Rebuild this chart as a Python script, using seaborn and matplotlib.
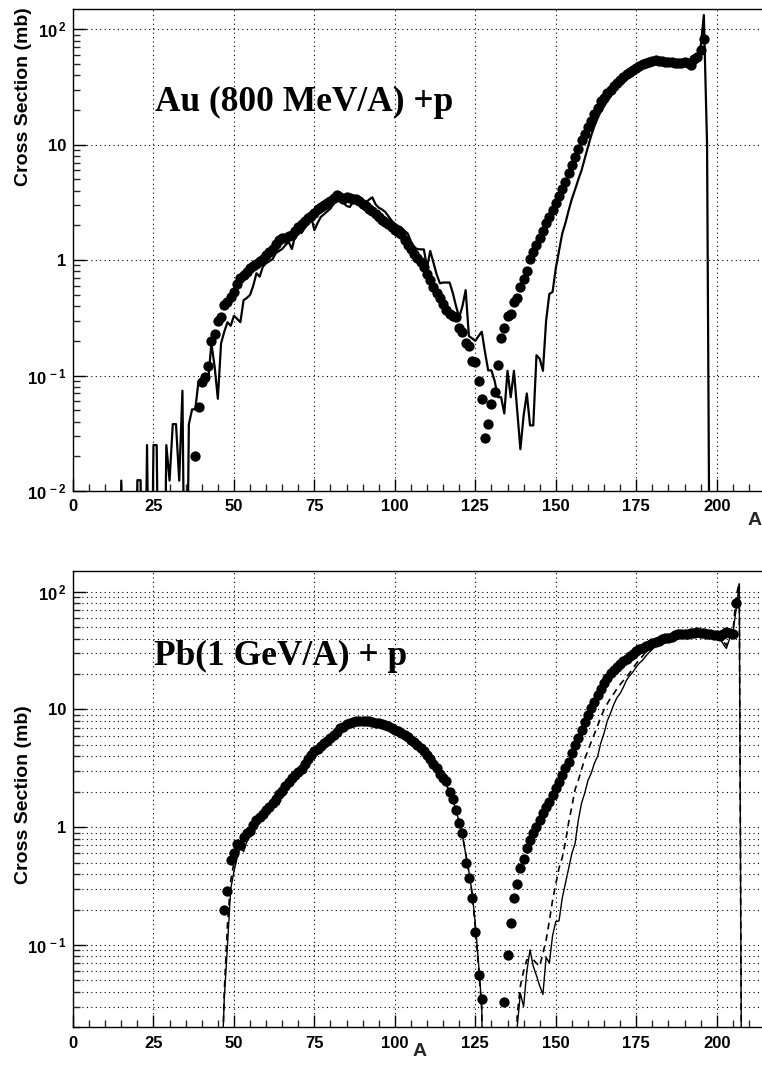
import numpy as np
import matplotlib
matplotlib.use("Agg")
import matplotlib.pyplot as plt
import seaborn as sns
from matplotlib.ticker import MultipleLocator, LogLocator, FuncFormatter, NullFormatter

ZERO = 1e-4  # empty bins, drawn below the axis

# ---- Au (800 MeV/A) + p : measured points
au_a = [38, 39, 40, 41, 42, 43, 44, 45, 46, 47, 48, 49, 50, 51, 52, 53, 54, 55, 56, 57,
        58, 59, 60, 61, 62, 63, 64, 65, 66, 67, 68, 69, 70, 71, 72, 73, 74, 75, 76, 77,
        78, 79, 80, 81, 82, 83, 84, 85, 86, 87, 88, 89, 90, 91, 92, 93, 94, 95, 96, 97,
        98, 99, 100, 101, 102, 103, 104, 105, 106, 107, 108, 109, 110, 111, 112, 113, 114, 115, 116, 117,
        118, 119, 120, 121, 122, 123, 124, 125, 126, 127, 128, 129, 130, 131, 132, 133, 134, 135, 136, 137,
        138, 139, 140, 141, 142, 143, 144, 145, 146, 147, 148, 149, 150, 151, 152, 153, 154, 155, 156, 157,
        158, 159, 160, 161, 162, 163, 164, 165, 166, 167, 168, 169, 170, 171, 172, 173, 174, 175, 176, 177,
        178, 179, 180, 181, 182, 183, 184, 185, 186, 187, 188, 189, 190, 191, 192, 193, 194, 195, 196]
au_xs = [0.020, 0.053, 0.088, 0.098, 0.12, 0.20, 0.23, 0.30, 0.32, 0.41, 0.43, 0.48, 0.53, 0.62, 0.70, 0.75, 0.79, 0.85, 0.89, 0.92,
         0.98, 1.03, 1.10, 1.17, 1.25, 1.38, 1.50, 1.55, 1.57, 1.62, 1.66, 1.80, 1.95, 2.07, 2.18, 2.30, 2.42, 2.55, 2.78, 2.88,
         3.00, 3.10, 3.25, 3.45, 3.66, 3.55, 3.42, 3.50, 3.48, 3.42, 3.36, 3.25, 3.08, 2.95, 2.80, 2.68, 2.52, 2.35, 2.25, 2.12,
         2.05, 1.95, 1.83, 1.76, 1.68, 1.50, 1.36, 1.24, 1.12, 1.05, 0.97, 0.87, 0.76, 0.67, 0.58, 0.52, 0.47, 0.42, 0.37, 0.34,
         0.33, 0.32, 0.26, 0.24, 0.19, 0.18, 0.135, 0.13, 0.09, 0.063, 0.029, 0.038, 0.057, 0.072, 0.124, 0.21, 0.26, 0.33, 0.34, 0.43,
         0.47, 0.58, 0.68, 0.80, 1.03, 1.18, 1.35, 1.55, 1.80, 2.10, 2.35, 2.70, 3.10, 3.60, 4.10, 4.80, 5.70, 6.70, 7.80, 9.20,
         11.0, 12.5, 14.3, 16.2, 18.5, 21.0, 24.0, 25.5, 28.0, 30.0, 32.0, 34.0, 36.5, 38.8, 41.0, 43.0, 44.5, 46.0, 48.0, 50.0,
         51.5, 52.5, 53.0, 54.0, 53.5, 53.0, 52.5, 52.0, 52.0, 51.5, 51.0, 51.5, 52.0, 51.5, 49.0, 55.0, 58.0, 66.0, 82.0]

# ---- Au : model (solid)
au_model_a = [14, 15, 16, 19, 20, 21, 22, 23, 24, 25, 26, 27, 28, 29, 30, 31, 32, 33, 34, 35,
              36, 37, 38, 39, 40, 41, 42, 43, 44, 45, 46, 47, 48, 49, 50, 51, 52, 53, 54, 55,
              56, 57, 58, 59, 60, 61, 62, 63, 64, 65, 66, 67, 68, 69, 70, 71, 72, 73, 74, 75,
              76, 77, 78, 79, 80, 81, 82, 83, 84, 85, 86, 87, 88, 89, 90, 91, 92, 93, 94, 95,
              96, 97, 98, 99, 100, 101, 102, 103, 104, 105, 106, 107, 108, 109, 110, 111, 112, 113, 114, 115,
              116, 117, 118, 119, 120, 121, 122, 123, 124, 125, 126, 127, 128, 129, 130, 131, 132, 133, 134, 135,
              136, 137, 138, 139, 140, 141, 142, 143, 144, 145, 146, 147, 148, 149, 150, 151, 152, 153, 154, 155,
              156, 157, 158, 159, 160, 161, 162, 163, 164, 165, 166, 167, 168, 169, 170, 171, 172, 173, 174, 175,
              176, 177, 178, 179, 180, 181, 182, 183, 184, 185, 186, 187, 188, 189, 190, 191, 192, 193, 194, 195,
              196, 197, 198]
au_model = [ZERO, 0.0123, ZERO, ZERO, 0.0124, 0.0124, ZERO, 0.025, ZERO, 0.025, 0.025, ZERO, ZERO, 0.025, 0.0123, 0.038, 0.038, 0.0123, 0.074, ZERO,
            0.038, 0.051, 0.051, 0.09, 0.095, 0.092, 0.09, 0.19, 0.12, 0.063, 0.19, 0.24, 0.29, 0.27, 0.33, 0.31, 0.29, 0.45, 0.47, 0.50,
            0.60, 0.77, 0.72, 0.88, 0.94, 0.98, 1.02, 1.15, 1.20, 1.25, 1.35, 1.44, 1.25, 1.62, 1.76, 1.72, 1.90, 2.10, 2.37, 1.82,
            2.10, 2.37, 2.50, 2.65, 2.80, 3.10, 3.25, 3.53, 3.15, 2.95, 2.89, 3.20, 3.25, 3.05, 3.00, 3.15, 3.35, 3.50, 3.05, 2.85,
            2.75, 2.62, 2.40, 2.20, 2.07, 1.98, 1.92, 1.80, 1.70, 1.45, 1.28, 1.25, 1.24, 1.24, 0.87, 1.20, 0.95, 0.75, 0.63, 0.64,
            0.64, 0.64, 0.52, 0.40, 0.32, 0.40, 0.55, 0.22, 0.21, 0.20, 0.22, 0.24, 0.16, 0.111, 0.111, 0.09, 0.065, 0.065, 0.047, 0.11,
            0.065, 0.11, 0.05, 0.023, 0.045, 0.07, 0.037, 0.037, 0.15, 0.14, 0.11, 0.30, 0.51, 0.53, 0.85, 1.20, 1.70, 2.10, 2.70, 3.40,
            4.10, 5.00, 6.00, 7.60, 9.60, 12.0, 14.5, 17.0, 19.5, 21.5, 24.0, 26.0, 29.0, 32.0, 35.0, 38.0, 40.0, 42.5, 44.5, 46.0,
            48.0, 49.5, 50.5, 51.5, 52.5, 53.0, 52.5, 52.0, 51.5, 51.5, 51.0, 51.0, 50.5, 50.5, 51.0, 51.0, 50.5, 51.0, 54.0, 70.0,
            133.0, 10.0, ZERO]

# ---- Pb (1 GeV/A) + p : measured points
pb_a = [47, 48, 49, 50, 51, 52, 53, 54, 55, 56, 57, 58, 59, 60, 61, 62, 63, 64, 65, 66,
        67, 68, 69, 70, 71, 72, 73, 74, 75, 76, 77, 78, 79, 80, 81, 82, 83, 84, 85, 86,
        87, 88, 89, 90, 91, 92, 93, 94, 95, 96, 97, 98, 99, 100, 101, 102, 103, 104, 105, 106,
        107, 108, 109, 110, 111, 112, 113, 114, 115, 116, 117, 118, 119, 120, 121, 122, 123, 124, 125, 126,
        127, 134, 135, 136, 137, 138, 139, 140, 141, 142, 143, 144, 145, 146, 147, 148, 149, 150, 151, 152,
        153, 154, 155, 156, 157, 158, 159, 160, 161, 162, 163, 164, 165, 166, 167, 168, 169, 170, 171, 172,
        173, 174, 175, 176, 177, 178, 179, 180, 181, 182, 183, 184, 185, 186, 187, 188, 189, 190, 191, 192,
        193, 194, 195, 196, 197, 198, 199, 200, 201, 202, 203, 204, 205, 206]
pb_xs = [0.20, 0.29, 0.53, 0.60, 0.72, 0.70, 0.82, 0.89, 0.93, 1.05, 1.15, 1.22, 1.30, 1.40, 1.50, 1.60, 1.75, 1.90, 2.05, 2.25,
         2.42, 2.60, 2.80, 2.97, 3.15, 3.45, 3.80, 4.10, 4.40, 4.65, 4.90, 5.15, 5.35, 5.70, 6.10, 6.50, 6.90, 7.15, 7.50, 7.75,
         7.85, 7.95, 8.00, 8.05, 8.00, 7.95, 7.85, 7.75, 7.70, 7.60, 7.40, 7.20, 6.95, 6.75, 6.55, 6.30, 6.05, 5.80, 5.55, 5.25,
         4.95, 4.70, 4.40, 4.10, 3.80, 3.45, 3.20, 2.85, 2.60, 2.45, 2.00, 1.75, 1.40, 1.08, 0.90, 0.50, 0.37, 0.25, 0.13, 0.056,
         0.035, 0.033, 0.082, 0.155, 0.25, 0.33, 0.45, 0.54, 0.66, 0.78, 0.89, 1.01, 1.15, 1.31, 1.50, 1.65, 1.88, 2.14, 2.44, 2.78,
         3.17, 3.60, 4.25, 5.00, 5.70, 6.70, 7.90, 9.00, 10.2, 11.6, 13.3, 14.8, 16.7, 18.4, 20.3, 21.8, 23.1, 24.3, 25.7, 27.0,
         28.3, 29.5, 31.2, 32.4, 33.5, 34.6, 35.5, 36.5, 37.5, 38.5, 39.3, 40.2, 40.8, 41.5, 42.5, 43.5, 43.8, 44.0, 44.0, 44.2,
         45.0, 45.7, 45.0, 44.5, 44.0, 43.5, 43.0, 42.5, 42.0, 43.5, 45.7, 45.0, 44.0, 80.7]

# ---- Pb : model 1 (solid)
pb_model_a = [46, 47, 48, 49, 50, 51, 52, 53, 54, 55, 56, 57, 58, 59, 60, 61, 62, 63, 64, 65,
              66, 67, 68, 69, 70, 71, 72, 73, 74, 75, 76, 77, 78, 79, 80, 81, 82, 83, 84, 85,
              86, 87, 88, 89, 90, 91, 92, 93, 94, 95, 96, 97, 98, 99, 100, 101, 102, 103, 104, 105,
              106, 107, 108, 109, 110, 111, 112, 113, 114, 115, 116, 117, 118, 119, 120, 121, 122, 123, 124, 125,
              126, 127, 128, 137, 138, 139, 140, 141, 142, 143, 144, 145, 146, 147, 148, 149, 150, 151, 152, 153,
              154, 155, 156, 157, 158, 159, 160, 161, 162, 163, 164, 165, 166, 167, 168, 169, 170, 171, 172, 173,
              174, 175, 176, 177, 178, 179, 180, 181, 182, 183, 184, 185, 186, 187, 188, 189, 190, 191, 192, 193,
              194, 195, 196, 197, 198, 199, 200, 201, 202, 203, 204, 205, 206, 207, 208]
pb_model = [0.006, 0.035, 0.10, 0.30, 0.42, 0.55, 0.68, 0.62, 0.75, 0.90, 1.02, 1.12, 1.20, 1.30, 1.38, 1.48, 1.62, 1.95, 1.55, 2.00,
            2.20, 2.40, 2.60, 2.90, 3.20, 3.30, 3.40, 3.75, 4.10, 4.35, 4.60, 4.85, 5.10, 5.35, 5.70, 6.10, 6.45, 6.85, 7.10, 7.40,
            7.70, 7.80, 7.90, 7.95, 8.00, 7.95, 7.90, 7.80, 7.70, 7.60, 7.50, 7.30, 7.10, 6.90, 6.70, 6.50, 6.25, 6.00, 5.75, 5.50,
            5.20, 4.90, 4.60, 4.30, 4.00, 3.70, 3.40, 3.10, 2.85, 2.60, 2.30, 2.00, 1.70, 1.40, 1.10, 0.85, 0.60, 0.42, 0.28, 0.15,
            0.07, 0.03, ZERO, ZERO, 0.02, 0.039, 0.03, 0.06, 0.091, 0.066, 0.055, 0.045, 0.038, 0.079, 0.07, 0.12, 0.158, 0.16, 0.25, 0.335,
            0.45, 0.60, 0.73, 1.15, 1.60, 1.95, 2.50, 2.87, 3.50, 4.00, 5.20, 6.30, 8.00, 9.30, 11.0, 12.6, 13.7, 15.5, 17.8, 19.4,
            20.9, 23.0, 24.8, 26.3, 28.5, 30.5, 32.5, 34.5, 36.5, 38.0, 39.0, 40.0, 41.0, 42.0, 42.5, 43.0, 43.5, 43.5, 44.0, 44.0,
            44.5, 44.5, 44.0, 43.5, 43.0, 42.5, 42.0, 40.0, 36.0, 33.0, 40.0, 44.0, 70.0, 114.0, ZERO]

# ---- Pb : model 2 (dashed)
pb_model2_a = [46, 47, 48, 49, 50, 52, 54, 56, 58, 60, 62, 64, 66, 68, 70, 72, 74, 76, 78, 80,
               82, 84, 86, 88, 90, 92, 94, 96, 98, 100, 102, 104, 106, 108, 110, 112, 114, 116, 118, 119,
               120, 121, 122, 123, 124, 125, 126, 127, 128, 137, 138, 139, 140, 141, 142, 143, 144, 145, 146, 147,
               148, 149, 150, 151, 152, 153, 154, 155, 156, 157, 158, 159, 160, 161, 162, 163, 164, 165, 166, 167,
               168, 169, 170, 171, 172, 173, 174, 175, 176, 177, 178, 179, 180, 182, 184, 186, 188, 190, 192, 194,
               196, 198, 200, 202, 203, 204, 205, 206, 207, 208]
pb_model2 = [0.004, 0.04, 0.15, 0.35, 0.50, 0.68, 0.85, 1.02, 1.20, 1.38, 1.60, 1.88, 2.20, 2.55, 2.95, 3.40, 4.05, 4.60, 5.10, 5.65,
             6.40, 7.10, 7.65, 7.90, 8.00, 7.90, 7.70, 7.50, 7.10, 6.70, 6.25, 5.75, 5.20, 4.60, 4.00, 3.40, 2.85, 2.30, 1.70, 1.40,
             1.10, 0.85, 0.60, 0.42, 0.27, 0.14, 0.065, 0.028, ZERO, ZERO, 0.025, 0.045, 0.06, 0.075, 0.075, 0.075, 0.07, 0.066, 0.085, 0.11,
             0.16, 0.24, 0.33, 0.45, 0.55, 0.75, 1.10, 1.50, 2.10, 2.50, 3.10, 3.80, 4.50, 5.30, 6.20, 7.30, 8.60, 10.0, 11.2, 12.5,
             13.6, 15.0, 16.3, 17.6, 19.0, 20.5, 22.5, 24.5, 26.5, 28.5, 31.0, 33.0, 35.0, 38.0, 40.0, 41.5, 43.0, 43.5, 44.0, 44.5,
             44.0, 43.0, 42.0, 38.0, 35.0, 41.0, 44.0, 90.0, 120.0, ZERO]

sns.set_theme(style="white")
plt.rcParams["font.family"] = ["Liberation Sans", "DejaVu Sans"]
plt.rcParams["font.weight"] = "bold"
plt.rcParams["mathtext.fontset"] = "custom"
plt.rcParams["mathtext.rm"] = "Liberation Sans:bold"
plt.rcParams["mathtext.it"] = "Liberation Sans:bold"
plt.rcParams["mathtext.bf"] = "Liberation Sans:bold"

W, H = 762, 1091
fig = plt.figure(figsize=(W / 100, H / 100), dpi=100)
ax1 = fig.add_axes([73 / W, (H - 491) / H, 692 / W, 482 / H])
ax2 = fig.add_axes([73 / W, (H - 1027.3) / H, 692 / W, 456.3 / H])


def log_label(v, pos):
    e = int(round(np.log10(v)))
    if e == 0:
        return "1"
    if e == 1:
        return "10"
    return r"$10^{\,%d}$" % e


def style_axes(ax, ymin, minor_grid):
    ax.set_yscale("log")
    ax.set_xlim(0, 215)
    ax.set_ylim(ymin, 150)
    ax.xaxis.set_major_locator(MultipleLocator(25))
    ax.xaxis.set_minor_locator(MultipleLocator(5))
    ax.yaxis.set_major_locator(LogLocator(base=10))
    ax.yaxis.set_minor_locator(LogLocator(base=10, subs=np.arange(2, 10)))
    ax.yaxis.set_major_formatter(FuncFormatter(log_label))
    ax.yaxis.set_minor_formatter(NullFormatter())
    ax.tick_params(which="major", direction="in", length=9, width=1, labelsize=12,
                   colors="black", bottom=True, left=True)
    ax.tick_params(which="minor", direction="in", length=5, width=1,
                   bottom=True, left=True)
    ax.tick_params(axis="x", pad=6)
    ax.tick_params(axis="y", pad=5)
    ax.grid(True, which="major", color="black", linestyle=(0, (1, 3)), linewidth=0.8)
    if minor_grid:
        ax.grid(True, which="minor", axis="y", color="black", linestyle=(0, (1, 3)), linewidth=0.8)
    for sp in ax.spines.values():
        sp.set_color("black")
        sp.set_linewidth(1.0)


style_axes(ax1, 0.01, False)
style_axes(ax2, 0.02, True)

sns.lineplot(x=au_model_a, y=au_model, ax=ax1, color="black", linewidth=1.6,
             estimator=None, sort=False)
sns.scatterplot(x=au_a, y=au_xs, ax=ax1, color="black", s=55, linewidth=0, zorder=3)

sns.lineplot(x=pb_model_a, y=pb_model, ax=ax2, color="black", linewidth=1.0,
             estimator=None, sort=False)
sns.lineplot(x=pb_model2_a, y=pb_model2, ax=ax2, color="black", linewidth=1.2,
             estimator=None, sort=False, linestyle=(0, (4, 3)))
sns.scatterplot(x=pb_a, y=pb_xs, ax=ax2, color="black", s=55, linewidth=0, zorder=3)

# re-apply limits after seaborn
for ax, ymin in ((ax1, 0.01), (ax2, 0.02)):
    ax.set_xlim(0, 215)
    ax.set_ylim(ymin, 150)
    ax.set_xlabel("")
    ax.set_ylabel("")

title_kw = dict(family=["Liberation Serif", "DejaVu Serif"], weight="bold", size=25.5,
                va="baseline", ha="left", color="black")
fig.text(155 / W, 1 - 111 / H, "Au (800 MeV/A) +p", **title_kw)
fig.text(154 / W, 1 - 665 / H, "Pb(1 GeV/A) + p", **title_kw)

ylab_kw = dict(rotation=90, ha="center", weight="bold", size=14, color="black")
fig.text(24 / W, 1 - 7 / H, "Cross Section (mb)", va="top", **ylab_kw)
fig.text(24 / W, 1 - 795 / H, "Cross Section (mb)", va="center", **ylab_kw)

fig.text(755 / W, 1 - 520 / H, "A", ha="center", va="center", weight="bold", size=14)
fig.text(420 / W, 1 - 1052 / H, "A", ha="center", va="center", weight="bold", size=14)

fig.savefig("out.png", dpi=100)
